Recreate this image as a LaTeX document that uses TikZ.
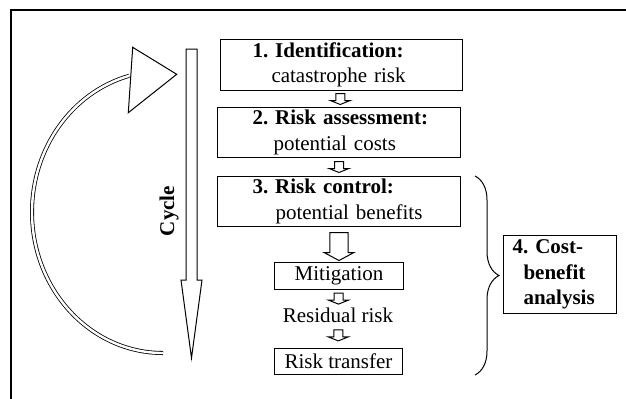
\documentclass[tikz,border=0pt]{standalone}
\usepackage{fontspec}
\setmainfont{Liberation Serif}
\usetikzlibrary{%
  calc,%
  decorations.pathreplacing%
}
\tikzset{>=latex}
\tikzset{
  stagebox/.style={draw,line width=0.5pt,anchor=north west,align=left,inner xsep=0pt,inner ysep=0pt},
  plainbox/.style={draw,line width=0.5pt,anchor=north west,inner sep=0pt},
  blockline/.style={line width=0.5pt,fill=white}
}
\frenchspacing
% hollow block arrow: centre point, shaft half width, head half width, shaft length, head length
\newcommand{\hollowarrow}[5]{%
  \draw[blockline] ($(#1)+(-#2,{-(#4+#5)/2})$) -- ++(0,#4) -- ++({#2-#3},0)
  -- ++(#3,#5) -- ++(#3,-#5) -- ++({#2-#3},0) -- ++(0,-#4) -- cycle;}

\begin{document}
\begin{tikzpicture}[x=0.5pt,y=-0.5pt,font=\fontsize{10.5}{12.6}\selectfont]
  \useasboundingbox (0,0) rectangle (626,398);
  \clip (0,0) rectangle (626,398);
  \draw[line width=0.7pt] (11,420) -- (11,10) -- (650,10);
  % cycle arrows
  \draw[double,line width=0.4pt,double distance=1.2pt] (163,353)
    arc[start angle=90,end angle=255,x radius=131,y radius=141];
  \draw[blockline] (132.7,47.3) -- (176.7,74.3) -- (128.3,112.7) -- cycle;
  \draw[blockline] (186,49) -- (186,280) -- (181,280) -- (191.5,358)
    -- (202,280) -- (197,280) -- (197,49) -- cycle;
  \node[rotate=90,font=\fontsize{10.5}{12}\selectfont\bfseries] (cycle) at (169,211) {Cycle};
  % stages
  \node[stagebox,text width=121pt,minimum height=25.5pt] (ident) at (220,39)
    {\hspace*{16pt}\textbf{1. Identification:}\\\hspace*{25.5pt}catastrophe risk};
  \node[stagebox,text width=121.5pt,minimum height=25pt] (assess) at (217,107)
    {\hspace*{17.5pt}\textbf{2. Risk assessment:}\\\hspace*{28pt}potential costs};
  \node[stagebox,text width=121.5pt,minimum height=25pt] (control) at (217,176)
    {\hspace*{17.5pt}\textbf{3. Risk control:}\\\hspace*{29pt}potential benefits};
  \node[plainbox,minimum width=64.5pt,minimum height=13.5pt] (mitig) at (274,262) {Mitigation};
  \node[inner sep=0pt] (resid) at (338,315) {Residual risk};
  \node[plainbox,minimum width=64pt,minimum height=13pt] (transfer) at (274,348) {Risk transfer};
  \node[stagebox,text width=56.5pt,minimum height=39pt] (cba) at (503,235)
    {\hspace*{4.5pt}\textbf{4. Cost-}\\\hspace*{10pt}\textbf{benefit}\\\hspace*{10pt}\textbf{analysis}};
  % arrows between stages
  \coordinate (a1) at ($(ident.south)!.5!(assess.north)$);
  \coordinate (a2) at ($(assess.south)!.5!(control.north)$);
  \coordinate (a3) at ($(control.south)!.5!(mitig.north)+(0,2)$);
  \coordinate (a4) at ($(mitig.south)!.5!(resid.north)$);
  \coordinate (a5) at ($(resid.south)!.5!(transfer.north)$);
  \foreach \a in {a1,a2,a4,a5} \hollowarrow{\a}{4.5}{10}{7}{4};
  \hollowarrow{a3}{9.2}{15}{20}{8}
  \draw[line width=0.5pt,decorate,decoration={brace,amplitude=12pt}]
    ([xshift=7pt]control.north east) -- ([xshift=7pt]control.east |- transfer.south);
\end{tikzpicture}
\end{document}
